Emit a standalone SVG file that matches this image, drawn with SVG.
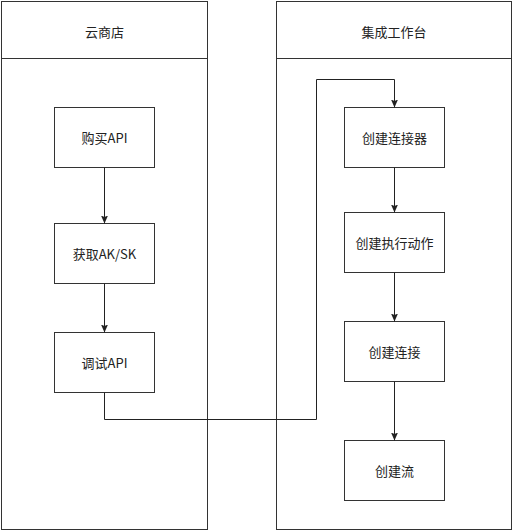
<svg xmlns="http://www.w3.org/2000/svg" width="513" height="531" viewBox="0 0 513 531">
<style>
.lane{fill:#fff;stroke:#333;stroke-width:1}
.box{fill:#fff;stroke:#333;stroke-width:1}
.t{font-family:"Noto Sans CJK SC","Liberation Sans",sans-serif;font-size:13px;fill:#222;text-anchor:middle;dominant-baseline:central}
.c{fill:none;stroke:#222;stroke-width:1}
</style>
<defs>
<marker id="ah" markerUnits="userSpaceOnUse" markerWidth="8" markerHeight="8" viewBox="0 0 8 8" refX="8" refY="4" orient="auto">
<path d="M0,0.5 L8,4 L0,7.5 L1.5,4 Z" fill="#222"/>
</marker>
</defs>
<g id="lane-cloud">
<rect class="lane" x="1.5" y="1.5" width="206" height="528"/>
<line class="lane" x1="1.5" y1="58.5" x2="207.5" y2="58.5"/>
<text class="t" x="104.5" y="31">云商店</text>
</g>
<g id="lane-workbench">
<rect class="lane" x="276.5" y="1.5" width="235" height="528"/>
<line class="lane" x1="276.5" y1="58.5" x2="511.5" y2="58.5"/>
<text class="t" x="394" y="31">集成工作台</text>
</g>
<g id="buy-api"><rect class="box" x="54.5" y="107.5" width="100" height="60"/><text class="t" x="104.5" y="137.5">购买API</text></g>
<g id="get-aksk"><rect class="box" x="54.5" y="223.5" width="100" height="60"/><text class="t" x="104.5" y="253.5">获取AK/SK</text></g>
<g id="debug-api"><rect class="box" x="54.5" y="332.5" width="100" height="60"/><text class="t" x="104.5" y="362.5">调试API</text></g>
<g id="create-connector"><rect class="box" x="344.5" y="107.5" width="100" height="60"/><text class="t" x="394.5" y="137.5">创建连接器</text></g>
<g id="create-action"><rect class="box" x="344.5" y="212.5" width="100" height="60"/><text class="t" x="394.5" y="242.5">创建执行动作</text></g>
<g id="create-connection"><rect class="box" x="344.5" y="321.5" width="100" height="60"/><text class="t" x="394.5" y="351.5">创建连接</text></g>
<g id="create-flow"><rect class="box" x="344.5" y="440.5" width="100" height="60"/><text class="t" x="394.5" y="470.5">创建流</text></g>
<g id="connectors">
<path class="c" d="M104.5,167.5 V223.5" marker-end="url(#ah)"/>
<path class="c" d="M104.5,283.5 V332.5" marker-end="url(#ah)"/>
<path class="c" d="M104.5,392.5 V419.5 H316.5 V79.5 H394.5 V107.5" marker-end="url(#ah)"/>
<path class="c" d="M394.5,167.5 V212.5" marker-end="url(#ah)"/>
<path class="c" d="M394.5,272.5 V321.5" marker-end="url(#ah)"/>
<path class="c" d="M394.5,381.5 V440.5" marker-end="url(#ah)"/>
</g>
</svg>
